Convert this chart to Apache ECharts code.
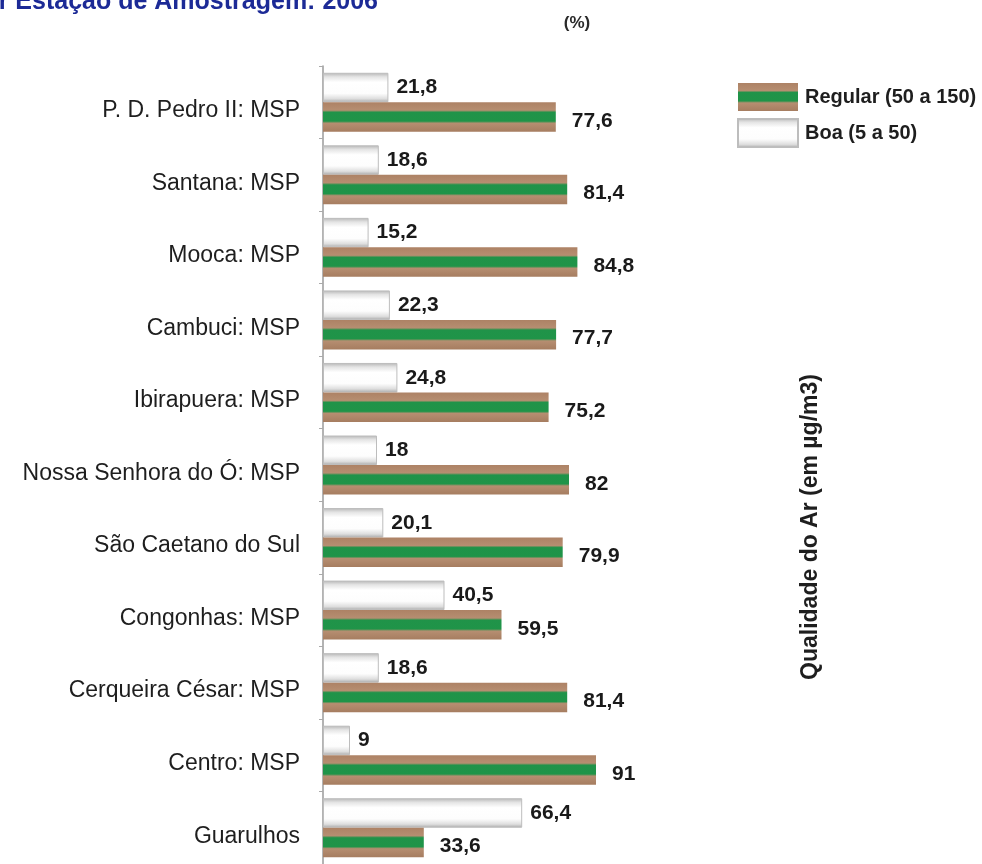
<!DOCTYPE html>
<html>
<head>
<meta charset="utf-8">
<script src="https://cdn.jsdelivr.net/npm/echarts@6/dist/echarts.min.js"></script>
<style>
html,body{margin:0;padding:0;background:#fff;}
#c{width:982px;height:864px;}
</style>
</head>
<body>
<div id="c"></div>
<script>
const categories = ['P. D. Pedro II: MSP','Santana: MSP','Mooca: MSP','Cambuci: MSP','Ibirapuera: MSP','Nossa Senhora do Ó: MSP','São Caetano do Sul','Congonhas: MSP','Cerqueira César: MSP','Centro: MSP','Guarulhos'];
const boa = [21.8,18.6,15.2,22.3,24.8,18,20.1,40.5,18.6,9,66.4];
const regular = [77.6,81.4,84.8,77.7,75.2,82,79.9,59.5,81.4,91,33.6];
const seriesNames = ['Regular (50 a 150)','Boa (5 a 50)'];

const chart = echarts.init(document.getElementById('c'));
const fmt = p => String(p.value).replace('.', ',');
const font = '"Liberation Sans", Arial, sans-serif';

const regularColor = new echarts.graphic.LinearGradient(0,0,0,1,[
  {offset:0,color:'#ad8265'},
  {offset:0.27,color:'#b68e71'},
  {offset:0.34,color:'#209349'},
  {offset:0.64,color:'#1f9448'},
  {offset:0.71,color:'#b68e71'},
  {offset:1,color:'#a67d60'}
]);
const boaColor = new echarts.graphic.LinearGradient(0,0,0,1,[
  {offset:0,color:'#b5b5b5'},
  {offset:0.14,color:'#e4e4e4'},
  {offset:0.32,color:'#ffffff'},
  {offset:0.7,color:'#fdfdfd'},
  {offset:0.88,color:'#dedede'},
  {offset:1,color:'#a9a9a9'}
]);

chart.setOption({
  animation:false,
  backgroundColor:'#fff',
  grid:{left:323,top:66,width:300,height:803},
  xAxis:{type:'value',min:0,max:100,show:false},
  yAxis:{
    type:'category',data:categories,inverse:true,
    axisLine:{show:true,lineStyle:{color:'#9a9a9a',width:1.5}},
    axisTick:{show:true,length:4,lineStyle:{color:'#aaa'}},
    axisLabel:{fontFamily:font,fontSize:23,color:'#1e1e1e',margin:23,verticalAlign:'top',lineHeight:17}
  },
  legend:{
    orient:'vertical',left:732,top:78,itemWidth:60,itemHeight:28,itemGap:7,
    icon:'rect',data:seriesNames,
    textStyle:{fontFamily:font,fontSize:20,fontWeight:'bold',color:'#1e1e1e',padding:[0,0,0,2]}
  },
  graphic:[
    {type:'text',x:378,y:2,style:{text:'por Estação de Amostragem: 2006',fill:'#1c2a96',font:'bold 25px "Liberation Sans", Arial, sans-serif',textAlign:'right',textVerticalAlign:'middle'}},
    {type:'text',x:577,y:23,style:{text:'(%)',fill:'#2a2a2a',font:'bold 17px "Liberation Sans", Arial, sans-serif',textAlign:'center',textVerticalAlign:'middle'}},
    {type:'text',x:811,y:527,rotation:Math.PI/2,style:{text:'Qualidade do Ar (em µg/m3)',fill:'#1e1e1e',font:'bold 23px "Liberation Sans", Arial, sans-serif',textAlign:'center',textVerticalAlign:'middle'}}
  ],
  series:[
    {name:seriesNames[1],type:'bar',data:boa,barWidth:29.5,barGap:'0%',
     itemStyle:{color:boaColor,borderColor:'#bdbdbd',borderWidth:1},
     label:{show:true,position:'right',distance:8,formatter:fmt,fontFamily:font,fontSize:21,fontWeight:'bold',color:'#1a1a1a'}},
    {name:seriesNames[0],type:'bar',data:regular,barWidth:29.5,barGap:'0%',
     itemStyle:{color:regularColor},
     label:{show:true,position:'right',distance:16,offset:[0,4],formatter:fmt,fontFamily:font,fontSize:21,fontWeight:'bold',color:'#1a1a1a'}}
  ]
});
</script>
</body>
</html>
